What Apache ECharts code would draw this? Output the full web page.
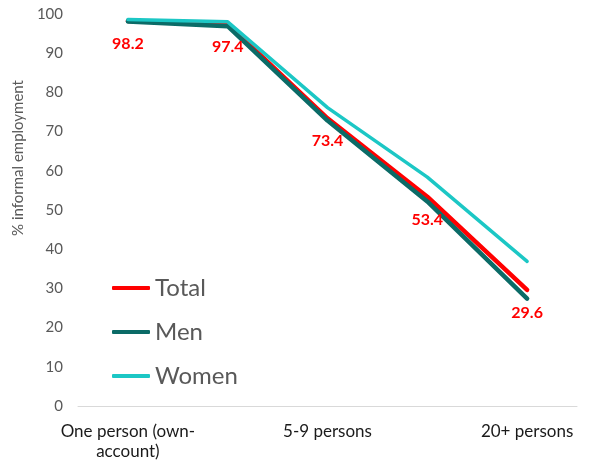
<!DOCTYPE html>
<html>
<head>
<meta charset="utf-8">
<script src="https://cdn.jsdelivr.net/npm/echarts@6/dist/echarts.min.js"></script>
<style>
  html, body { margin: 0; padding: 0; background: #fff; }
  #chart { width: 593px; height: 466px; }
</style>
</head>
<body>
<div id="chart"></div>
<script>
var categories = ['One person (own-account)', '2-4 persons', '5-9 persons', '10-19 persons', '20+ persons'];
var totalValues = [98.2, 97.4, 73.4, 53.4, 29.6];
var menValues = [98.1, 96.9, 72.8, 52.2, 27.4];
var womenValues = [98.6, 98.0, 76.1, 58.4, 36.9];
var yTicks = { min: 0, max: 100, step: 10 };

var chart = echarts.init(document.getElementById('chart'));
var font = 'Lato, "Liberation Sans", sans-serif';

chart.setOption({
  animation: false,
  textStyle: { fontFamily: font },
  grid: { left: 78, right: 16, top: 14, bottom: 60 },
  legend: {
    orient: 'vertical',
    left: 112,
    top: 276,
    padding: 0,
    itemWidth: 38,
    itemHeight: 4,
    itemGap: 20,
    icon: 'roundRect',
    textStyle: { fontSize: 24, color: '#595959', lineHeight: 24, fontFamily: font },
    data: ['Total', 'Men', 'Women']
  },
  graphic: [{
    type: 'text',
    x: 18,
    y: 158,
    rotation: Math.PI / 2,
    style: {
      text: '% informal employment',
      fill: '#595959',
      font: '15px ' + font,
      textAlign: 'center',
      textVerticalAlign: 'middle'
    }
  }],
  xAxis: {
    type: 'category',
    data: categories,
    boundaryGap: true,
    axisLine: { lineStyle: { color: '#d9d9d9', width: 1 } },
    axisTick: { show: false },
    axisLabel: {
      interval: 1,
      color: '#1a1a1a',
      fontSize: 17,
      lineHeight: 20,
      margin: 16,
      formatter: function (v) { return v.replace('own-', 'own-\n'); }
    }
  },
  yAxis: {
    type: 'value',
    min: yTicks.min,
    max: yTicks.max,
    interval: yTicks.step,
    axisLine: { show: false },
    axisTick: { show: false },
    splitLine: { show: false },
    axisLabel: { color: '#595959', fontSize: 15, margin: 15 }
  },
  series: [
    {
      name: 'Total',
      type: 'line',
      data: totalValues,
      symbol: 'circle',
      symbolSize: 0.1,
      color: '#ff0000',
      lineStyle: { width: 4.5, color: '#ff0000', cap: 'round' },
      label: {
        show: true,
        position: 'bottom',
        distance: 15,
        color: '#ff0000',
        fontWeight: 'bold',
        fontSize: 16,
        fontFamily: font
      }
    },
    {
      name: 'Men',
      type: 'line',
      data: menValues,
      symbol: 'none',
      color: '#0b6b67',
      lineStyle: { width: 4.5, color: '#0b6b67', cap: 'round' }
    },
    {
      name: 'Women',
      type: 'line',
      data: womenValues,
      symbol: 'none',
      color: '#1cc7c5',
      lineStyle: { width: 3.5, color: '#1cc7c5', cap: 'round' }
    }
  ]
});
</script>
</body>
</html>
